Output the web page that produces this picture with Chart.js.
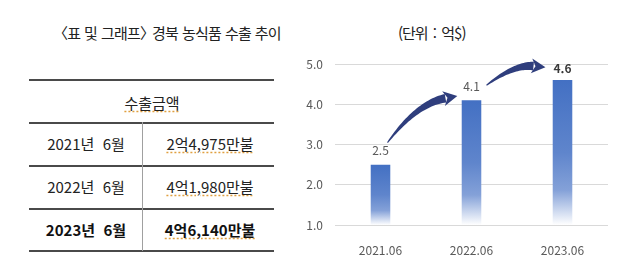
<!DOCTYPE html>
<html lang="ko">
<head>
<meta charset="utf-8">
<script src="https://cdn.jsdelivr.net/npm/chart.js@4/dist/chart.umd.min.js"></script>
<style>
  html, body { margin: 0; padding: 0; background: #fff; }
  body { width: 639px; height: 271px; position: relative; overflow: hidden;
         font-family: "Noto Sans CJK KR", "Noto Sans", sans-serif; color: #222; }
  .title { position: absolute; left: 60px; top: 22px; font-size: 15px; line-height: 22px; letter-spacing: -0.8px; word-spacing: 0.5px; color: #222; white-space: nowrap; }
  .title .ob { margin-left: -7px; }
  .title .cb { margin-right: -6px; }
  .unit { position: absolute; left: 398px; top: 22px; font-size: 15px; line-height: 22px; letter-spacing: -1px; word-spacing: 2px; color: #222; white-space: pre; }
  .hline { position: absolute; left: 29px; width: 245px; height: 1.5px; background: #4a4a4a; }
  .vline { position: absolute; left: 142px; width: 1px; top: 122px; height: 129px; background: #a0a0a0; }
  .cell { position: absolute; font-size: 15px; white-space: pre; transform: translate(-50%, -50%); color: #222; }
  .cell span { text-decoration: underline dotted #e0a040; text-underline-offset: 3px; }
  .bold { font-weight: 700; color: #111; }
  #wrap { position: absolute; left: 300px; top: 40px; width: 339px; height: 231px; }
</style>
</head>
<body>
<div class="title"><span class="ob">〈</span>표 및 그래프<span class="cb">〉</span> 경북 농식품 수출 추이</div>
<div class="unit">(단위 : 억$)</div>
<div id="table"></div>
<div id="wrap"><canvas id="chart" width="339" height="231"></canvas></div>
<script>
// 데이터
const categories = ['2021.06', '2022.06', '2023.06'];
const exportValues = [2.5, 4.1, 4.6];
const valueLabels = ['2.5', '4.1', '4.6'];
const yMin = 1, yMax = 5, yStep = 1;

const tableHeader = '수출금액';
const tableYears = ['2021년  6월', '2022년  6월', '2023년  6월'];
const tableAmounts = ['2억4,975만불', '4억1,980만불', '4억6,140만불'];

/* ---------- 표 ---------- */
function renderTable() {
  const lines = [79, 122, 165, 208, 250];
  const rowY = [143, 186, 229];
  let html = lines.map((y) => `<div class="hline" style="top:${y}px"></div>`).join('');
  html += '<div class="vline"></div>';
  html += `<div class="cell" style="left:152px;top:102px"><span>${tableHeader}</span></div>`;
  tableYears.forEach((yr, i) => {
    const b = i === tableYears.length - 1 ? ' bold' : '';
    html += `<div class="cell${b}" style="left:86px;top:${rowY[i]}px">${yr}</div>`;
    html += `<div class="cell${b}" style="left:210px;top:${rowY[i]}px"><span>${tableAmounts[i]}</span></div>`;
  });
  document.getElementById('table').innerHTML = html;
}
renderTable();

/* ---------- 그래프 ---------- */
function barFill(ctx) {
  const chart = ctx.chart;
  const area = chart.chartArea;
  if (!area || ctx.raw == null) return '#4472c4';
  const y = chart.scales.y;
  const top = y.getPixelForValue(ctx.raw);
  const bottom = y.getPixelForValue(yMin);
  const g = chart.ctx.createLinearGradient(0, top, 0, bottom);
  g.addColorStop(0, '#4370c3');
  g.addColorStop(0.5, '#5f85cc');
  g.addColorStop(0.76, '#84a1d8');
  g.addColorStop(1, '#ffffff');
  return g;
}

// 막대 사이 곡선 화살표 (막대 꼭대기 기준 오프셋: 시작, 제어점, 머리 밑)
const ARROWS = [
  { from: 0, to: 1, s: [7, -22], c: [36, -61], e: [-26, -2] },
  { from: 1, to: 2, s: [15, -15], c: [43, -36], e: [-29, -14] },
];

function bez(p0, p1, p2, t) {
  const u = 1 - t;
  return [u * u * p0[0] + 2 * u * t * p1[0] + t * t * p2[0],
          u * u * p0[1] + 2 * u * t * p1[1] + t * t * p2[1]];
}
function bezD(p0, p1, p2, t) {
  const u = 1 - t;
  return [2 * u * (p1[0] - p0[0]) + 2 * t * (p2[0] - p1[0]),
          2 * u * (p1[1] - p0[1]) + 2 * t * (p2[1] - p1[1])];
}

function drawArrow(c, S, C, E) {
  const headLen = 12, headW = 7.5;
  const d = bezD(S, C, E, 1);
  const len = Math.hypot(d[0], d[1]);
  const dir = [d[0] / len, d[1] / len];
  const tip = [E[0] + dir[0] * headLen, E[1] + dir[1] * headLen];
  const N = 30, left = [], right = [];
  for (let i = 0; i <= N; i++) {
    const t = i / N;
    const p = bez(S, C, E, t);
    const dd = bezD(S, C, E, t);
    const l = Math.hypot(dd[0], dd[1]);
    const n = [-dd[1] / l, dd[0] / l];
    const w = 0.5 + 3.8 * Math.pow(t, 0.8);
    left.push([p[0] + n[0] * w, p[1] + n[1] * w]);
    right.push([p[0] - n[0] * w, p[1] - n[1] * w]);
  }
  c.save();
  c.fillStyle = '#2f3e7d';
  c.beginPath();
  left.forEach((p, i) => (i ? c.lineTo(p[0], p[1]) : c.moveTo(p[0], p[1])));
  for (let i = right.length - 1; i >= 0; i--) c.lineTo(right[i][0], right[i][1]);
  c.closePath();
  c.fill();
  const n = [-dir[1], dir[0]];
  c.beginPath();
  c.moveTo(tip[0], tip[1]);
  c.lineTo(E[0] + n[0] * headW - dir[0] * 2, E[1] + n[1] * headW - dir[1] * 2);
  c.lineTo(E[0] + dir[0] * 2, E[1] + dir[1] * 2);
  c.lineTo(E[0] - n[0] * headW - dir[0] * 2, E[1] - n[1] * headW - dir[1] * 2);
  c.closePath();
  c.fill();
  c.restore();
}

const decorPlugin = {
  id: 'decor',
  afterDatasetsDraw(chart) {
    const c = chart.ctx;
    const bars = chart.getDatasetMeta(0).data;
    // 값 라벨
    c.save();
    c.textAlign = 'center';
    c.textBaseline = 'middle';
    bars.forEach((b, i) => {
      const last = i === bars.length - 1;
      c.font = (last ? 'bold ' : '') + '12px "Noto Sans CJK KR", "Noto Sans", sans-serif';
      c.fillStyle = last ? '#3a3a3a' : '#595959';
      c.fillText(valueLabels[i], b.x, b.y - (last ? 12 : 14));
    });
    c.restore();
    // 화살표
    ARROWS.forEach((a) => {
      const b0 = bars[a.from], b1 = bars[a.to];
      const S = [b0.x + a.s[0], b0.y + a.s[1]];
      const C = [b0.x + a.c[0], b0.y + a.c[1]];
      const E = [b1.x + a.e[0], b1.y + a.e[1]];
      drawArrow(c, S, C, E);
    });
  },
};

new Chart(document.getElementById('chart'), {
  type: 'bar',
  data: {
    labels: categories,
    datasets: [{
      data: exportValues,
      backgroundColor: barFill,
      borderWidth: 0,
      categoryPercentage: 1,
      barPercentage: 0.215,
    }],
  },
  options: {
    responsive: false,
    animation: false,
    layout: { padding: { top: 24, right: 31, left: 0, bottom: 0 } },
    plugins: { legend: { display: false }, tooltip: { enabled: false } },
    scales: {
      x: {
        grid: { display: false },
        border: { display: false },
        ticks: { color: '#595959', font: { size: 12, family: '"Noto Sans CJK KR", "Noto Sans", sans-serif' }, padding: 10 },
        afterFit: (s) => { s.height = 46; },
      },
      y: {
        min: yMin, max: yMax,
        grid: { color: '#d9d9d9', drawTicks: false },
        border: { display: false },
        ticks: {
          stepSize: yStep, padding: 12, color: '#595959',
          font: { size: 12, family: '"Noto Sans CJK KR", "Noto Sans", sans-serif' },
          callback: (v) => Number(v).toFixed(1),
        },
        afterFit: (s) => { s.width = 35; },
      },
    },
  },
  plugins: [decorPlugin],
});
</script>
</body>
</html>
